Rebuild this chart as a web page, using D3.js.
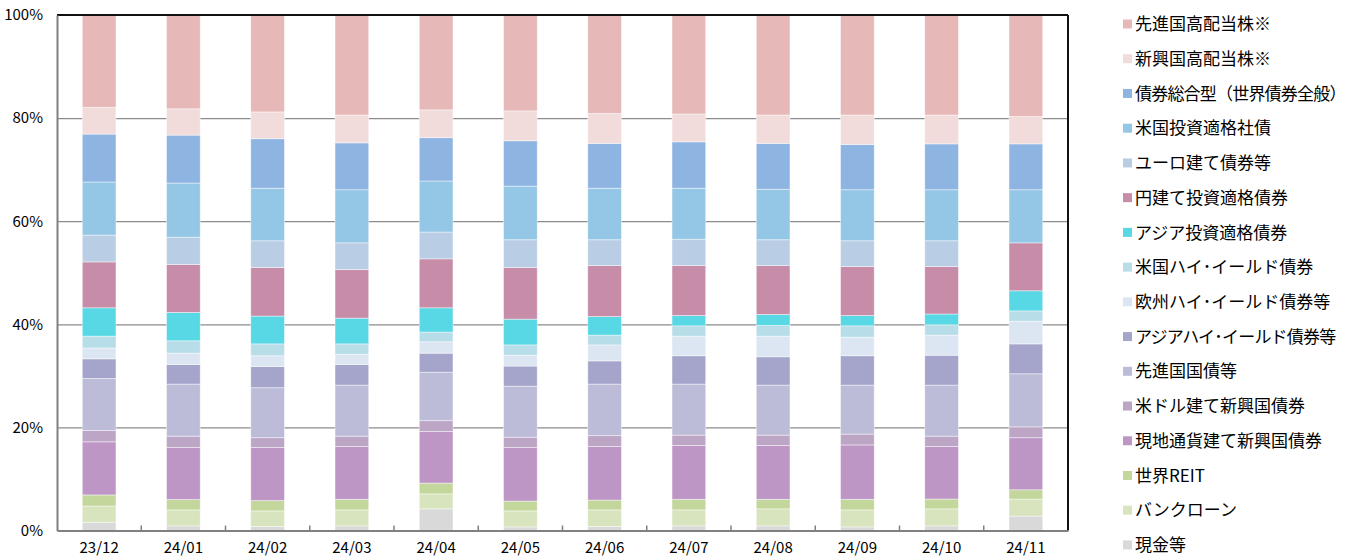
<!DOCTYPE html>
<html>
<head>
<meta charset="utf-8">
<script src="https://cdn.jsdelivr.net/npm/d3@7"></script>
<style>
  body { margin: 0; background: #fff; }
  svg text { font-family: "Noto Sans CJK JP", "Noto Sans", sans-serif; fill: #000; }
</style>
</head>
<body>
<svg id="chart" width="1351" height="558"></svg>
<script>
// months on the x axis
var months = ['23/12', '24/01', '24/02', '24/03', '24/04', '24/05', '24/06', '24/07', '24/08', '24/09', '24/10', '24/11'];

// series, stacking order bottom -> top (%)
var cash        = [1.6, 0.9, 0.8, 0.9, 4.2, 0.7, 0.8, 0.9, 0.9, 0.7, 0.9, 2.8];
var bankLoan    = [3.15, 3.1, 3.0, 3.1, 2.9, 3.1, 3.2, 3.1, 3.3, 3.3, 3.3, 3.3];
var reit        = [2.15, 2.0, 2.0, 2.05, 2.1, 1.9, 1.9, 2.05, 1.85, 2.05, 1.9, 1.8];
var emLocal     = [10.3, 10.1, 10.3, 10.25, 10.0, 10.4, 10.4, 10.45, 10.45, 10.55, 10.2, 10.1];
var emUsd       = [2.2, 2.2, 1.9, 2.0, 2.1, 2.0, 2.1, 2.0, 2.0, 2.1, 2.0, 2.1];
var dmGov       = [10.1, 10.1, 9.7, 9.9, 9.4, 9.9, 10.0, 9.9, 9.7, 9.5, 9.9, 10.3];
var asiaHY      = [3.8, 3.8, 4.1, 4.0, 3.7, 3.9, 4.5, 5.5, 5.5, 5.7, 5.8, 5.8];
var euroHY      = [2.1, 2.2, 2.1, 2.0, 2.2, 2.1, 3.1, 3.8, 4.0, 3.6, 3.9, 4.4];
var usHY        = [2.3, 2.4, 2.3, 2.0, 1.9, 2.0, 1.9, 2.0, 2.1, 2.2, 2.0, 2.0];
var asiaIG      = [5.5, 5.5, 5.4, 5.0, 4.7, 5.0, 3.6, 2.0, 2.1, 2.0, 2.1, 3.9];
var yenIG       = [8.9, 9.3, 9.4, 9.4, 9.5, 10.0, 9.9, 9.7, 9.5, 9.5, 9.2, 9.3];
var euroBond    = [5.2, 5.3, 5.2, 5.2, 5.2, 5.4, 5.0, 5.1, 5.0, 5.0, 5.0, 0];
var usIG        = [10.3, 10.5, 10.2, 10.3, 9.9, 10.4, 10.0, 9.9, 9.8, 9.9, 9.9, 10.3];
var aggBond     = [9.3, 9.3, 9.6, 9.1, 8.4, 8.8, 8.7, 9.0, 8.9, 8.8, 8.9, 8.9];
var emDiv       = [5.2, 5.1, 5.2, 5.4, 5.4, 5.8, 5.8, 5.4, 5.5, 5.7, 5.6, 5.3];
var dmDiv       = [17.9, 18.2, 18.8, 19.4, 18.4, 18.6, 19.1, 19.2, 19.4, 19.4, 19.4, 19.7];

var seriesNames = ['現金等', 'バンクローン', '世界REIT', '現地通貨建て新興国債券', '米ドル建て新興国債券',
  '先進国国債等', 'アジアハイ･イールド債券等', '欧州ハイ･イールド債券等', '米国ハイ･イールド債券',
  'アジア投資適格債券', '円建て投資適格債券', 'ユーロ建て債券等', '米国投資適格社債',
  '債券総合型（世界債券全般）', '新興国高配当株※', '先進国高配当株※'];
var seriesValues = [cash, bankLoan, reit, emLocal, emUsd, dmGov, asiaHY, euroHY, usHY,
  asiaIG, yenIG, euroBond, usIG, aggBond, emDiv, dmDiv];
var seriesColors = ['#d9d9d9', '#d7e4bd', '#c3d69b', '#bd96c6', '#bda5c6', '#bcbcd8', '#a5a5cb', '#dce6f2',
  '#b7dde8', '#57d8e4', '#c78ca8', '#b9cde5', '#93c7e5', '#8eb4e2', '#f2dcdb', '#e6b8b7'];
var yTicks = [0, 0.2, 0.4, 0.6, 0.8, 1];

var svg = d3.select('#chart');
var m = {left: 57, top: 15, right: 1068, bottom: 530.5};

var rows = months.map(function (mo, i) {
  var r = {month: mo};
  seriesNames.forEach(function (n, k) { r[n] = seriesValues[k][i]; });
  return r;
});
var stacked = d3.stack().keys(seriesNames).offset(d3.stackOffsetExpand)(rows);

var x = d3.scaleBand().domain(months).range([m.left, m.right]).paddingInner(0.6).paddingOuter(0.3);
var y = d3.scaleLinear().domain([0, 1]).range([m.bottom, m.top]);

// grid
svg.append('g')
  .attr('transform', 'translate(' + m.left + ',0)')
  .call(d3.axisLeft(y).tickValues(yTicks.slice(1, 5)).tickSize(-(m.right - m.left)).tickFormat(''))
  .call(function (g) { g.select('.domain').remove(); })
  .selectAll('line').attr('stroke', '#8c8c8c').attr('stroke-width', 1.2);

// bars
svg.append('g').selectAll('g').data(stacked).join('g')
  .attr('fill', function (d, i) { return seriesColors[i]; })
  .selectAll('rect').data(function (d) { return d; }).join('rect')
  .attr('x', function (d) { return x(d.data.month); })
  .attr('width', x.bandwidth())
  .attr('y', function (d) { return y(d[1]); })
  .attr('height', function (d) { return Math.max(0, y(d[0]) - y(d[1])); })
  .attr('stroke', '#ffffff').attr('stroke-opacity', 0.55).attr('stroke-width', 0.8);

// frame
svg.append('line').attr('x1', m.left).attr('x2', m.right).attr('y1', m.top).attr('y2', m.top)
  .attr('stroke', '#111').attr('stroke-width', 2);
svg.append('line').attr('x1', m.right).attr('x2', m.right).attr('y1', m.top).attr('y2', m.bottom)
  .attr('stroke', '#111').attr('stroke-width', 2);

// y axis
var ya = svg.append('g').attr('transform', 'translate(' + m.left + ',0)')
  .call(d3.axisLeft(y).tickValues(yTicks).tickSize(0).tickPadding(14).tickFormat(d3.format('.0%')));
ya.select('.domain').attr('stroke', '#808080').attr('stroke-width', 2);
ya.selectAll('text').style('font-size', '15px').attr('fill', '#000');

// x axis, ticks between bands pointing up
var xa = svg.append('g').attr('transform', 'translate(0,' + m.bottom + ')')
  .call(d3.axisBottom(x).tickSize(0).tickPadding(12));
xa.select('.domain').attr('stroke', '#808080').attr('stroke-width', 2);
xa.selectAll('text').style('font-size', '15px').attr('fill', '#000');
xa.selectAll('.sep').data(months.slice(1)).join('line').attr('class', 'sep')
  .attr('x1', function (d) { return x(d) - x.step() * x.paddingInner() / 2; })
  .attr('x2', function (d) { return x(d) - x.step() * x.paddingInner() / 2; })
  .attr('y1', 0).attr('y2', -5).attr('stroke', '#808080').attr('stroke-width', 1.5);

// legend, top entry = top of stack
var legend = svg.append('g');
var order = d3.range(seriesNames.length).reverse();
var li = legend.selectAll('g').data(order).join('g')
  .attr('transform', function (d, i) { return 'translate(1123,' + (24 + i * 34.73) + ')'; });
li.append('rect').attr('x', 0).attr('y', -4.5).attr('width', 9).attr('height', 9)
  .attr('fill', function (d) { return seriesColors[d]; });
li.append('text').attr('x', 12).attr('dy', '0.36em').style('font-size', '17px')
  .style('letter-spacing', function (d) { return seriesNames[d].length > 12 ? '-0.8px' : null; })
  .text(function (d) { return seriesNames[d]; });
</script>
</body>
</html>
